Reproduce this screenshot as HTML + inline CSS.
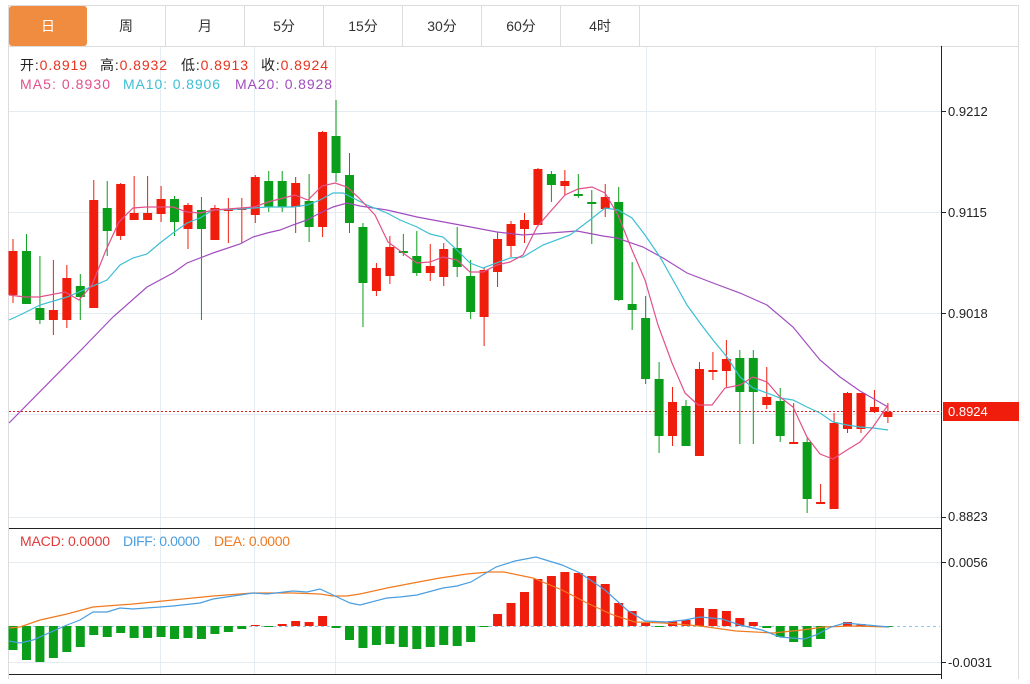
<!DOCTYPE html>
<html><head><meta charset="utf-8"><style>
body{margin:0;background:#fff;width:1030px;height:679px;overflow:hidden;font-family:"Liberation Sans","Noto Sans CJK SC",sans-serif}
</style></head><body>
<svg id="s" width="1030" height="679" xmlns="http://www.w3.org/2000/svg" font-family="Liberation Sans, Noto Sans CJK SC, sans-serif">
<rect x="8.5" y="5.5" width="1010" height="680" fill="#fff" stroke="#dcdcdc"/>
<line x1="8" y1="46.5" x2="1019" y2="46.5" stroke="#dcdcdc"/>
<rect x="9" y="6" width="78" height="40" rx="3" fill="#f08c40"/>
<g stroke="#dcdcdc"><line x1="165.5" y1="6" x2="165.5" y2="46"/><line x1="244.5" y1="6" x2="244.5" y2="46"/><line x1="323.5" y1="6" x2="323.5" y2="46"/><line x1="402.5" y1="6" x2="402.5" y2="46"/><line x1="481.5" y1="6" x2="481.5" y2="46"/><line x1="560.5" y1="6" x2="560.5" y2="46"/><line x1="639.5" y1="6" x2="639.5" y2="46"/></g>
<g font-size="14" text-anchor="middle" fill="#333"><text x="48" y="31" fill="#fff">日</text><text x="126" y="31">周</text><text x="205" y="31">月</text><text x="284" y="31">5分</text><text x="363" y="31">15分</text><text x="442" y="31">30分</text><text x="521" y="31">60分</text><text x="600" y="31">4时</text></g>
<g stroke="#e4ecf2"><line x1="160.5" y1="47" x2="160.5" y2="674"/><line x1="254.5" y1="47" x2="254.5" y2="674"/><line x1="335.5" y1="47" x2="335.5" y2="674"/><line x1="646.5" y1="47" x2="646.5" y2="674"/><line x1="875.5" y1="47" x2="875.5" y2="674"/>
<line x1="9" y1="111.5" x2="942" y2="111.5"/><line x1="9" y1="212.5" x2="942" y2="212.5"/><line x1="9" y1="313.5" x2="942" y2="313.5"/><line x1="9" y1="414.5" x2="942" y2="414.5"/><line x1="9" y1="517.5" x2="942" y2="517.5"/>
<line x1="9" y1="562.5" x2="942" y2="562.5"/><line x1="9" y1="662.5" x2="942" y2="662.5"/></g>
<line x1="941.5" y1="46" x2="941.5" y2="679" stroke="#222"/>
<line x1="9" y1="528.5" x2="942" y2="528.5" stroke="#222"/>
<line x1="9" y1="674.5" x2="942" y2="674.5" stroke="#222"/>
<g font-size="14"><text x="20" y="70" fill="#222" textLength="67">开:<tspan fill="#e8321e">0.8919</tspan></text><text x="100" y="70" fill="#222" textLength="67">高:<tspan fill="#e8321e">0.8932</tspan></text><text x="181" y="70" fill="#222" textLength="67">低:<tspan fill="#e8321e">0.8913</tspan></text><text x="261" y="70" fill="#222" textLength="67">收:<tspan fill="#e8321e">0.8924</tspan></text>
<text x="20" y="89" fill="#e2508a" textLength="90">MA5: 0.8930</text><text x="123" y="89" fill="#3cbfd4" textLength="97">MA10: 0.8906</text><text x="235" y="89" fill="#a24cc0" textLength="97">MA20: 0.8928</text>
<text x="20" y="546" fill="#e03a3a" textLength="90">MACD: 0.0000</text><text x="123" y="546" fill="#4a9ee0" textLength="77">DIFF: 0.0000</text><text x="214" y="546" fill="#f07a20" textLength="76">DEA: 0.0000</text></g>
<g font-size="13" fill="#222"><text x="948" y="116">0.9212</text><text x="948" y="217">0.9115</text><text x="948" y="318">0.9018</text><text x="948" y="521">0.8823</text><text x="948" y="567">0.0056</text><text x="948" y="667">-0.0031</text></g>
<g stroke="#222"><line x1="942" y1="111.5" x2="946" y2="111.5"/><line x1="942" y1="212.5" x2="946" y2="212.5"/><line x1="942" y1="313.5" x2="946" y2="313.5"/><line x1="942" y1="517.5" x2="946" y2="517.5"/><line x1="942" y1="562.5" x2="946" y2="562.5"/><line x1="942" y1="662.5" x2="946" y2="662.5"/></g>
<line x1="9" y1="411.5" x2="942" y2="411.5" stroke="#e02020" stroke-dasharray="2,2"/>
<rect x="943" y="402" width="76" height="19" fill="#f01c0c"/><text x="948" y="416" font-size="13" fill="#fff">0.8924</text>
<line x1="9" y1="626.5" x2="940" y2="626.5" stroke="#8cc8e8" stroke-dasharray="3,3"/>
<g id="c"></g>
<polyline fill="none" stroke="#a24cc0" stroke-width="1.2" points="9,423 83,348 113,317 147,287 173,273 187,263 213,253 240,244 253,237 267,233 280,230 293,225 307,220 320,213 333,207 347,203 360,206 387,210 400,213 417,217 433,220 460,225 497,232 523,235 550,233 577,231 603,236 617,238 643,247 663,258 687,273 713,283 740,293 767,305 793,327 820,360 840,377 860,391 888,407"/>
<polyline fill="none" stroke="#3cbfd4" stroke-width="1.2" points="9,320 20,315 40,305 67,297 107,280 120,265 133,258 147,254 160,243 173,233 187,223 200,218 213,210 240,209 267,207 293,207 307,205 320,200 333,193 343,193 353,198 367,205 387,213 400,220 417,227 430,234 443,237 457,250 470,263 483,268 510,258 523,257 543,245 570,235 590,220 605,208 618,210 632,218 645,235 660,257 673,280 687,305 700,323 713,340 727,357 740,377 753,388 767,393 780,398 793,400 807,407 820,413 833,422 847,425 860,427 873,428 888,430"/>
<polyline fill="none" stroke="#e2508a" stroke-width="1.2" points="9,295 25,297 39,297 65,292 79,300 92,285 106,250 119,222 133,208 146,207 173,207 187,212 200,213 214,210 254,207 268,202 295,195 308,200 322,186 335,183 347,187 358,197 375,215 388,242 403,253 417,263 430,262 443,257 457,260 470,272 483,272 497,265 510,262 523,255 537,227 550,212 565,195 578,189 592,187 605,193 618,215 632,250 645,280 658,325 672,363 685,393 698,405 712,405 725,388 740,385 753,377 767,382 780,397 793,407 807,437 820,454 833,459 847,450 860,442 873,427 888,405"/>
<g id="m"></g>
<polyline fill="none" stroke="#f07a20" stroke-width="1.2" points="9,628 20,627 40,620 67,614 93,607 133,604 173,600 213,596 253,593 293,593 320,594 333,596 347,596 360,594 387,588 413,583 440,578 467,574 489,572 504,572 533,578 562,590 587,603 613,615 635,622 664,623 700,626 736,631 773,633 802,630 824,627 853,626 889,627"/>
<polyline fill="none" stroke="#4a9ee0" stroke-width="1.2" points="9,641 20,643 33,640 67,625 80,620 93,612 107,612 120,608 133,609 160,607 173,606 200,603 213,599 240,595 253,593 267,594 293,591 307,592 320,589 333,595 350,603 360,605 387,598 400,597 417,595 443,588 457,586 471,582 496,567 515,561 536,557 562,565 580,573 605,590 627,610 645,621 667,622 685,620 700,617 722,619 740,625 762,630 780,637 804,639 816,635 831,627 845,623 867,625 889,627"/>
</svg>
<script>
var R="#f01c0c",G="#0a9e1a";
var d=[[251,295,239,303,'r'],[251,304,234,304,'g'],[308,320,256,324,'g'],[310,320,260,335,'r'],[278,320,265,328,'r'],[286,297,274,320,'g'],[200,308,180,308,'r'],[208,231,181,256,'g'],[184,236,183,240,'r'],[213,220,176,220,'r'],[213,220,176,220,'r'],[199,214,186,222,'r'],[199,222,196,236,'g'],[205,229,203,249,'r'],[210,229,197,320,'g'],[208,240,205,240,'r'],[209,211,198,243,'r'],[208,210,198,243,'r'],[177,215,175,223,'r'],[181,207,171,212,'g'],[181,207,171,212,'g'],[183,207,177,233,'r'],[201,227,174,242,'g'],[132,227,131,237,'r'],[136,173,100,182,'g'],[175,223,153,233,'g'],[227,283,223,327,'g'],[268,291,263,296,'r'],[247,276,236,284,'r'],[251,253,234,256,'g'],[256,273,231,276,'g'],[266,273,244,281,'r'],[249,277,243,286,'r'],[248,267,227,277,'g'],[276,312,260,319,'g'],[270,317,268,346,'r'],[239,272,232,287,'r'],[224,246,221,257,'r'],[220,229,213,243,'r'],[169,225,168,225,'r'],[174,185,171,202,'g'],[181,186,170,195,'r'],[194,196,174,198,'g'],[202,204,190,244,'g'],[197,209,184,217,'r'],[202,300,187,301,'g'],[304,310,262,330,'g'],[318,379,296,384,'g'],[379,436,362,453,'g'],[402,436,387,446,'r'],[406,446,400,446,'g'],[369,456,362,456,'r'],[370,372,352,380,'r'],[359,371,340,387,'r'],[358,392,350,444,'g'],[358,392,350,444,'g'],[397,405,367,409,'r'],[401,436,388,442,'g'],[442,443,403,443,'r'],[442,499,438,513,'g'],[502,503,484,503,'r'],[423,509,413,509,'r'],[393,429,392,433,'r'],[393,429,393,433,'r'],[407,412,390,413,'r'],[412,417,403,423,'r']];
var h="";for(var i=0;i<d.length;i++){var x=13+i*13.46,a=d[i],c=a[4]=='r'?R:G;
h+='<line x1="'+x+'" x2="'+x+'" y1="'+a[2]+'" y2="'+a[3]+'" stroke="'+c+'" stroke-width="1"/>';
var bh=Math.max(a[1]-a[0],2);h+='<rect x="'+(x-4.5)+'" y="'+a[0]+'" width="9" height="'+bh+'" fill="'+c+'"/>';}
document.getElementById('c').innerHTML=h;
var m=[650,660,662,658,652,647,635,637,633,638,638,637,639,638,639,634,632,629,625,627,624,621,622,616,628,640,648,645,644,647,649,647,645,646,642,627,614,603,592,579,576,572,573,576,584,603,611,623,627,621,620,608,609,611,618,622,628,637,642,647,639,627,622,624,626,626];
var g="";for(i=0;i<m.length;i++){var x=13+i*13.46,y=m[i],z=626,c=y<z?R:G,t=Math.min(y,z),hh=Math.max(Math.abs(y-z),1);
g+='<rect x="'+(x-4.5)+'" y="'+t+'" width="9" height="'+hh+'" fill="'+c+'"/>';}
document.getElementById('m').innerHTML=g;
</script>
</body></html>
